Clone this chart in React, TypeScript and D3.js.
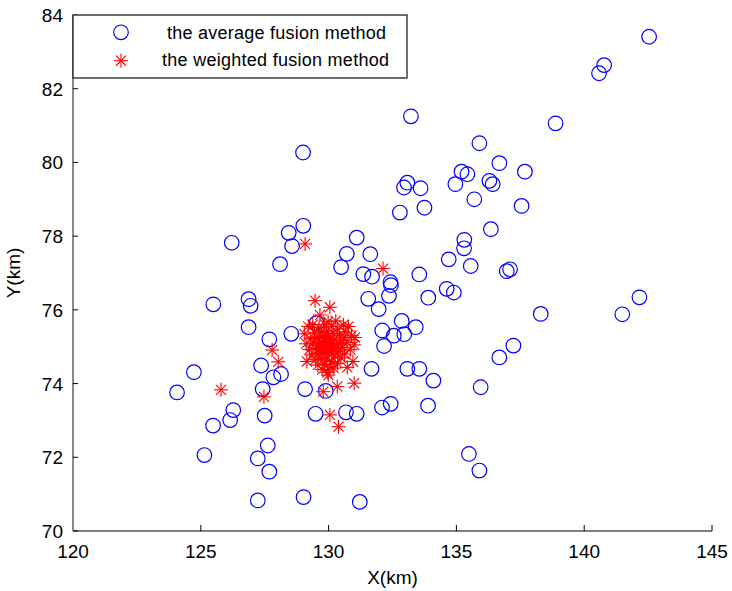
import React from "react";
import * as d3 from "d3";

const width = 732;
const height = 591;
const margin = { top: 15, right: 20, bottom: 60, left: 73 };

const xDomain = [120, 145];
const yDomain = [70, 84];
const xTicks = [120, 125, 130, 135, 140, 145];
const yTicks = [70, 72, 74, 76, 78, 80, 82, 84];

const seriesNames = ["the average fusion method", "the weighted fusion method"];

// average fusion method (blue circles)
const averageX = [
  142.54, 140.78, 140.58, 138.88, 133.22, 135.9, 136.68, 137.68, 135.2, 135.43,
  134.96, 136.29, 136.42, 133.08, 132.95, 133.6, 135.7, 137.55, 132.79, 133.75,
  136.35, 135.31, 135.3, 134.7, 135.56, 136.97, 137.1, 133.55, 134.62, 134.9,
  133.9, 142.16, 141.49, 138.3, 132.86, 133.41, 132.96, 137.23, 136.68, 133.08,
  133.55, 134.1, 135.95, 133.89, 135.49, 135.9, 126.21, 128.1, 125.49, 126.87,
  126.95, 126.87, 127.68, 124.73, 124.07, 127.36, 127.42, 127.84, 128.14, 126.27,
  126.15, 125.48, 127.5, 125.14, 127.62, 127.23, 127.68, 127.23, 128.44, 129.01,
  128.57, 131.1, 130.71, 131.63, 130.49, 131.36, 131.7, 132.42, 132.44, 131.55,
  132.36, 131.96, 128.54, 132.1, 132.55, 132.17, 131.68, 129.53, 129.08, 129.89,
  129.49, 130.68, 131.1, 132.09, 132.43, 129.02, 131.22, 129.0
];
const averageY = [
  83.41, 82.64, 82.42, 81.06, 81.25, 80.52, 79.98, 79.75, 79.75, 79.68,
  79.41, 79.5, 79.41, 79.45, 79.32, 79.3, 79.0, 78.82, 78.64, 78.77,
  78.19, 77.9, 77.67, 77.37, 77.19, 77.05, 77.1, 76.96, 76.57, 76.47,
  76.33, 76.34, 75.88, 75.89, 75.7, 75.53, 75.34, 75.03, 74.71, 74.4,
  74.4, 74.08, 73.9, 73.4, 72.09, 71.64, 77.82, 77.24, 76.15, 76.29,
  76.11, 75.53, 75.2, 74.31, 73.76, 74.49, 73.85, 74.17, 74.26, 73.28,
  73.01, 72.86, 73.13, 72.06, 72.32, 71.97, 71.61, 70.83, 78.09, 78.28,
  77.73, 77.96, 77.52, 77.51, 77.16, 76.97, 76.9, 76.75, 76.67, 76.3,
  76.38, 76.02, 75.35, 75.44, 75.3, 75.02, 74.4, 75.64, 73.85, 73.8,
  73.18, 73.22, 73.18, 73.35, 73.45, 70.92, 70.79, 80.27
];

// weighted fusion method (red stars)
const weightedX = [
  125.79, 127.47, 127.79, 128.03, 129.08, 132.13, 129.47, 130.05, 129.66, 130.05,
  130.39, 129.79, 130.34, 131.0, 130.73, 129.99, 131.03, 130.58,
  129.62, 129.85, 130.12, 130.35, 129.45, 129.7, 129.92, 130.18, 130.42, 130.65,
  129.3, 129.55, 129.78, 130.0, 130.22, 130.48, 130.72, 130.9, 129.12, 129.4,
  129.65, 129.88, 130.08, 130.3, 130.55, 130.85, 129.25, 129.5, 129.72, 129.95,
  130.15, 130.38, 130.62, 129.35, 129.6, 129.82, 130.02, 130.25, 130.48, 129.48,
  129.7, 129.92, 130.12, 130.35, 129.58, 129.85, 130.05, 129.75, 129.95, 130.2,
  129.05, 129.2, 130.78, 131.0, 130.95, 129.15, 129.98, 130.28, 129.38, 130.6,
  129.83, 130.05, 129.6, 130.2, 129.9, 130.1, 129.75, 130.45, 129.98, 129.7
];
const weightedY = [
  73.83, 73.64, 74.91, 74.59, 77.79, 77.12, 76.25, 76.07, 75.86, 73.15,
  72.83, 73.78, 73.92, 74.01, 74.44, 74.23, 75.25, 75.59,
  75.52, 75.61, 75.55, 75.48, 75.38, 75.4, 75.42, 75.36, 75.32, 75.4,
  75.22, 75.25, 75.28, 75.3, 75.2, 75.18, 75.12, 75.3, 75.08, 75.1,
  75.12, 75.15, 75.1, 75.05, 74.98, 74.92, 74.92, 74.95, 74.98, 75.0,
  74.95, 74.88, 74.8, 74.78, 74.82, 74.85, 74.8, 74.75, 74.7, 74.65,
  74.68, 74.66, 74.6, 74.55, 74.5, 74.52, 74.45, 74.38, 74.3, 74.42,
  75.35, 75.55, 75.55, 75.05, 74.6, 74.6, 75.68, 75.7, 75.6, 75.25,
  75.22, 75.2, 75.05, 74.88, 74.9, 75.05, 75.1, 75.08, 74.95, 74.85
];

const font = "'Liberation Sans', Arial, Helvetica, sans-serif";

const Star = ({ x, y, r }: { x: number; y: number; r: number }) => {
  const d = r * 0.72;
  return (
    <g stroke="#ff0000" strokeWidth={1.1}>
      <line x1={x - r} y1={y} x2={x + r} y2={y} />
      <line x1={x} y1={y - r} x2={x} y2={y + r} />
      <line x1={x - d} y1={y - d} x2={x + d} y2={y + d} />
      <line x1={x - d} y1={y + d} x2={x + d} y2={y - d} />
    </g>
  );
};

export default function App() {
  const xScale = d3
    .scaleLinear()
    .domain(xDomain)
    .range([margin.left, width - margin.right]);
  const yScale = d3
    .scaleLinear()
    .domain(yDomain)
    .range([height - margin.bottom, margin.top]);

  const x0 = xScale(xDomain[0]);
  const x1 = xScale(xDomain[1]);
  const y0 = yScale(yDomain[0]);
  const y1 = yScale(yDomain[1]);

  const average = averageX.map((x, i) => ({ x, y: averageY[i] }));
  const weighted = weightedX.map((x, i) => ({ x, y: weightedY[i] }));

  return (
    <svg
      width={width}
      height={height}
      style={{ position: "absolute", left: 0, top: 0, background: "#fff" }}
      fontFamily={font}
    >
      {/* x axis */}
      <line x1={x0} x2={x1} y1={y0} y2={y0} stroke="#000" strokeWidth={1.2} />
      {xTicks.map(t => (
        <g key={"x" + t}>
          <line x1={xScale(t)} x2={xScale(t)} y1={y0} y2={y0 - 6} stroke="#000" />
          <text x={xScale(t)} y={y0 + 27} textAnchor="middle" fontSize={19}>
            {t}
          </text>
        </g>
      ))}
      {/* y axis */}
      <line x1={x0} x2={x0} y1={y0} y2={y1} stroke="#888" strokeWidth={2} />
      {yTicks.map(t => (
        <g key={"y" + t}>
          <line x1={x0} x2={x0 + 5} y1={yScale(t)} y2={yScale(t)} stroke="#000" />
          <text x={x0 - 10} y={yScale(t) + 7} textAnchor="end" fontSize={19}>
            {t}
          </text>
        </g>
      ))}
      <text x={(x0 + x1) / 2} y={584} textAnchor="middle" fontSize={19}>
        X(km)
      </text>
      <text
        transform={`translate(20,${(y0 + y1) / 2}) rotate(-90)`}
        textAnchor="middle"
        fontSize={19}
      >
        Y(km)
      </text>

      {/* points */}
      {average.map((d, i) => (
        <circle
          key={"a" + i}
          cx={xScale(d.x)}
          cy={yScale(d.y)}
          r={7.3}
          fill="none"
          stroke="#0000ff"
          strokeWidth={1.2}
        />
      ))}
      {weighted.map((d, i) => (
        <Star key={"w" + i} x={xScale(d.x)} y={yScale(d.y)} r={7} />
      ))}

      {/* legend */}
      <rect x={x0} y={y1} width={334} height={63} fill="#fff" stroke="#222" strokeWidth={1.3} />
      <circle cx={121} cy={32.3} r={7.3} fill="none" stroke="#0000ff" strokeWidth={1.2} />
      <text x={167} y={38.5} fontSize={18} textLength={219}>
        {seriesNames[0]}
      </text>
      <Star x={121} y={60.7} r={7} />
      <text x={162} y={66} fontSize={18} textLength={227}>
        {seriesNames[1]}
      </text>
    </svg>
  );
}
